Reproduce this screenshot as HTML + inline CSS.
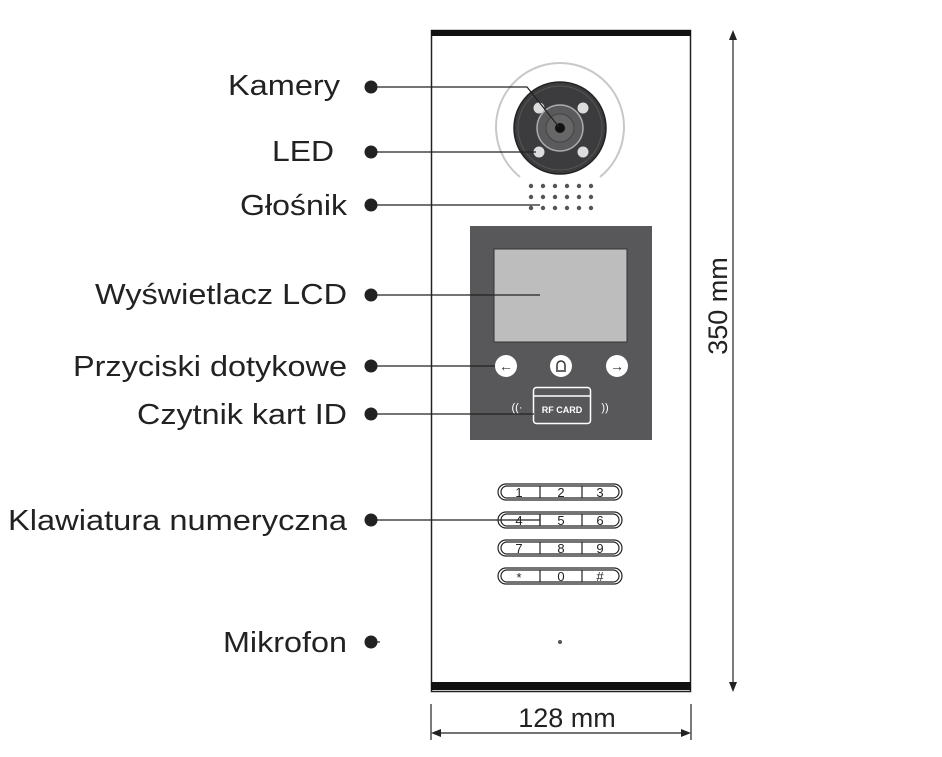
<!DOCTYPE html>
<html><head><meta charset="utf-8"><style>body{margin:0;background:#fff}svg{display:block}</style></head>
<body>
<svg width="942" height="757" viewBox="0 0 942 757" xmlns="http://www.w3.org/2000/svg" font-family="Liberation Sans, sans-serif">
<rect x="431.5" y="30.5" width="259" height="661" fill="#fff" stroke="#222" stroke-width="1.5"/>
<rect x="431" y="30" width="260" height="6" fill="#111"/>
<rect x="431" y="682" width="260" height="8" fill="#111"/>
<path d="M520 177 A64 64 0 1 1 600 177" fill="none" stroke="#c8c8c8" stroke-width="2"/>
<circle cx="560" cy="128" r="46" fill="#3c3c3e" stroke="#222" stroke-width="1.5"/>
<circle cx="560" cy="128" r="42" fill="none" stroke="#555" stroke-width="1"/>
<circle cx="560" cy="128" r="23" fill="#5a5a5c" stroke="#aaa" stroke-width="1.5"/>
<circle cx="560" cy="128" r="14" fill="#666" stroke="#444" stroke-width="1"/>
<circle cx="560" cy="128" r="5" fill="#111"/>
<circle cx="539" cy="108" r="5.5" fill="#ddd"/>
<circle cx="583" cy="108" r="5.5" fill="#ddd"/>
<circle cx="539" cy="152" r="5.5" fill="#ddd"/>
<circle cx="583" cy="152" r="5.5" fill="#ddd"/>
<g fill="#555">
<circle cx="531" cy="186" r="2.2"/><circle cx="543" cy="186" r="2.2"/><circle cx="555" cy="186" r="2.2"/><circle cx="567" cy="186" r="2.2"/><circle cx="579" cy="186" r="2.2"/><circle cx="591" cy="186" r="2.2"/>
<circle cx="531" cy="197" r="2.2"/><circle cx="543" cy="197" r="2.2"/><circle cx="555" cy="197" r="2.2"/><circle cx="567" cy="197" r="2.2"/><circle cx="579" cy="197" r="2.2"/><circle cx="591" cy="197" r="2.2"/>
<circle cx="531" cy="208" r="2.2"/><circle cx="543" cy="208" r="2.2"/><circle cx="555" cy="208" r="2.2"/><circle cx="567" cy="208" r="2.2"/><circle cx="579" cy="208" r="2.2"/><circle cx="591" cy="208" r="2.2"/>
</g>
<rect x="470" y="226" width="182" height="214" fill="#58585a"/>
<rect x="494" y="249" width="133" height="93" fill="#bdbdbd" stroke="#333" stroke-width="1"/>
<circle cx="506" cy="366" r="11" fill="#fff"/><text x="506" y="371" font-size="14" text-anchor="middle" fill="#333" font-weight="bold">←</text>
<circle cx="561" cy="366" r="11" fill="#fff"/><path d="M556 371 h10 M557 370 v-5 a4 4 0 0 1 8 0 v5" fill="none" stroke="#333" stroke-width="1.5"/>
<circle cx="617" cy="366" r="11" fill="#fff"/><text x="617" y="371" font-size="14" text-anchor="middle" fill="#333" font-weight="bold">→</text>
<rect x="533.5" y="387.5" width="57" height="36" rx="3" fill="none" stroke="#fff" stroke-width="1.5"/>
<line x1="534" y1="396" x2="590" y2="396" stroke="#fff" stroke-width="1.5"/>
<text x="562" y="413" font-size="9" font-weight="bold" text-anchor="middle" fill="#fff">RF CARD</text>
<text x="517" y="411" font-size="11" text-anchor="middle" fill="#fff">((·</text>
<text x="605" y="411" font-size="11" text-anchor="middle" fill="#fff">))</text>
<g fill="none" stroke="#222" stroke-width="1.2">
<rect x="498" y="484" width="124" height="16" rx="8"/><rect x="501" y="486" width="118" height="12" rx="6"/>
<rect x="498" y="512" width="124" height="16" rx="8"/><rect x="501" y="514" width="118" height="12" rx="6"/>
<rect x="498" y="540" width="124" height="16" rx="8"/><rect x="501" y="542" width="118" height="12" rx="6"/>
<rect x="498" y="568" width="124" height="16" rx="8"/><rect x="501" y="570" width="118" height="12" rx="6"/>
<path d="M540 486v12 M582 486v12 M540 514v12 M582 514v12 M540 542v12 M582 542v12 M540 570v12 M582 570v12"/>
</g>
<g font-size="13" text-anchor="middle" fill="#222">
<text x="519" y="497">1</text><text x="561" y="497">2</text><text x="600" y="497">3</text>
<text x="519" y="525">4</text><text x="561" y="525">5</text><text x="600" y="525">6</text>
<text x="519" y="553">7</text><text x="561" y="553">8</text><text x="600" y="553">9</text>
<text x="519" y="582">*</text><text x="561" y="581">0</text><text x="600" y="581">#</text>
</g>
<circle cx="560" cy="642" r="2" fill="#555"/>
<g font-size="29" fill="#222" lengthAdjust="spacingAndGlyphs">
<text x="228" y="95" textLength="112" lengthAdjust="spacingAndGlyphs">Kamery</text>
<text x="272" y="161" textLength="62" lengthAdjust="spacingAndGlyphs">LED</text>
<text x="240" y="215" textLength="107" lengthAdjust="spacingAndGlyphs">Głośnik</text>
<text x="95" y="304" textLength="252" lengthAdjust="spacingAndGlyphs">Wyświetlacz LCD</text>
<text x="73" y="376" textLength="274" lengthAdjust="spacingAndGlyphs">Przyciski dotykowe</text>
<text x="137" y="424" textLength="210" lengthAdjust="spacingAndGlyphs">Czytnik kart ID</text>
<text x="8" y="530" textLength="339" lengthAdjust="spacingAndGlyphs">Klawiatura numeryczna</text>
<text x="223" y="652" textLength="124" lengthAdjust="spacingAndGlyphs">Mikrofon</text>
</g>
<g fill="#222">
<circle cx="371" cy="87" r="6.5"/><circle cx="371" cy="152" r="6.5"/><circle cx="371" cy="205" r="6.5"/><circle cx="371" cy="295" r="6.5"/>
<circle cx="371" cy="366" r="6.5"/><circle cx="371" cy="414" r="6.5"/><circle cx="371" cy="520" r="6.5"/><circle cx="371" cy="642" r="6.5"/>
</g>
<g stroke="#222" stroke-width="1.2" fill="none">
<path d="M371 87 H527 L559 127"/>
<path d="M371 152 H536"/>
<path d="M371 205 H540"/>
<path d="M371 295 H540"/>
<path d="M371 366 H495"/>
<path d="M371 414 H534"/>
<path d="M371 520 H540 M540 515v10"/>
<path d="M371 642 H380"/>
</g>
<g stroke="#222" stroke-width="1.2" fill="#222">
<line x1="733" y1="34" x2="733" y2="688"/>
<path d="M733 30 l-4 10 h8z M733 692 l-4 -10 h8z" stroke="none"/>
<line x1="431" y1="704" x2="431" y2="740"/>
<line x1="691" y1="704" x2="691" y2="740"/>
<line x1="435" y1="733" x2="687" y2="733"/>
<path d="M431 733 l10 -4 v8z M691 733 l-10 -4 v8z" stroke="none"/>
</g>
<text x="567" y="727" font-size="27" text-anchor="middle" fill="#222">128 mm</text>
<text transform="translate(727 306) rotate(-90)" font-size="27" text-anchor="middle" fill="#222">350 mm</text>
</svg>
</body></html>
